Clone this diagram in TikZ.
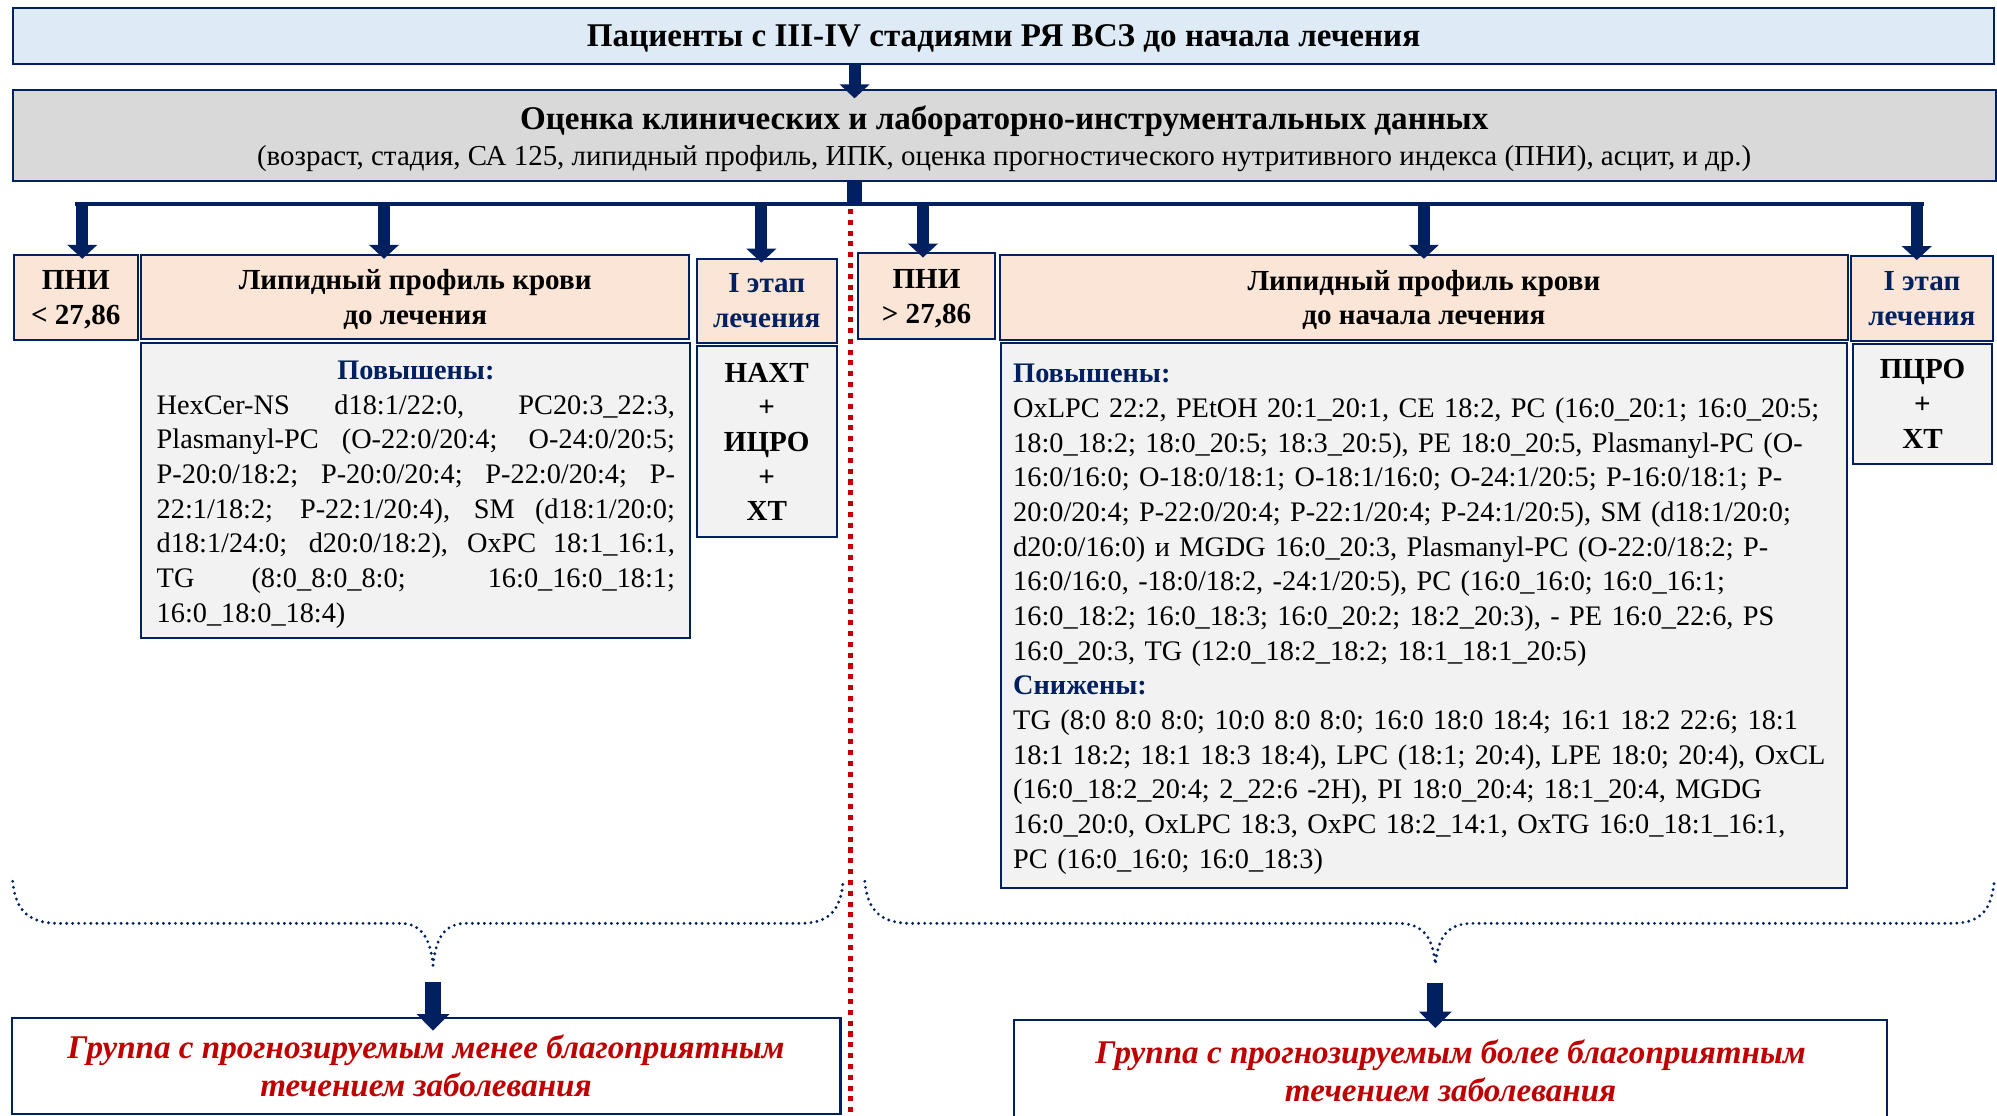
\documentclass[tikz,border=0pt]{standalone}
\usepackage{fontspec}
\setmainfont{Liberation Serif}
\usepackage{tikz}
\usetikzlibrary{arrows.meta,positioning}
\definecolor{dblue}{HTML}{002060}
\definecolor{lblue}{HTML}{DEEBF7}
\definecolor{mgray}{HTML}{D9D9D9}
\definecolor{peach}{HTML}{FBE5D6}
\definecolor{lgray}{HTML}{F2F2F2}
\definecolor{dred}{HTML}{C00000}

\begin{document}
\begin{tikzpicture}[x=0.02cm, y=-0.02cm,
                    box/.style = {draw=dblue, line width=0.9pt, inner sep=0pt, align=center},
                    hdr/.style = {box, fill=peach, text depth=0pt, font=\fontsize{13}{15.6}\selectfont\bfseries},
                    lst/.style = {box, fill=lgray, font=\fontsize{12.65}{15.5}\selectfont},
                    trt/.style = {box, fill=lgray, font=\fontsize{13}{15.5}\selectfont\bfseries},
                    grp/.style = {box, fill=white, text=dred, font=\fontsize{14.8}{17}\selectfont\bfseries\itshape},
                    arr/.style = {dblue, line width=0.19cm, shorten >=-0.08cm,
                                  -{Triangle[width=0.46cm,length=0.22cm]}},
                    arrbig/.style = {dblue, line width=0.25cm,
                                  -{Triangle[width=0.5cm,length=0.26cm]}},
                    brace/.style = {draw=dblue, line width=0.05cm, line cap=round, dash pattern=on 0pt off 0.095cm},
                    divider/.style = {draw=dred, line width=0.08cm, dash pattern=on 0.08cm off 0.09cm}
                    ]
\useasboundingbox (0,0) rectangle (1568,876);

\node[box, fill=lblue, minimum width=31.12cm, minimum height=0.88cm, text depth=0pt,
      font=\fontsize{14.8}{18}\selectfont\bfseries] (p0) at (788,28)
      {Пациенты с III-IV стадиями РЯ ВСЗ до начала лечения};
\node[box, fill=mgray, minimum width=31.14cm, minimum height=1.42cm, text depth=0pt,
      font=\fontsize{12.93}{16.4}\selectfont] (p1) at (788.5,106.5)
      {{\fontsize{14.8}{16.4}\selectfont\bfseries Оценка клинических и лабораторно-инструментальных данных}\\
       (возраст, стадия, СА 125, липидный профиль, ИПК, оценка прогностического нутритивного индекса (ПНИ), асцит, и др.)};

\node[hdr, minimum width=1.94cm, minimum height=1.34cm] (n1) at (59.5,233.5) {ПНИ\\< 27,86};
\node[hdr, minimum width=8.6cm, minimum height=1.32cm] (l1) at (326,233) {Липидный профиль крови\\до лечения};
\node[hdr, minimum width=2.2cm, minimum height=1.32cm, text=dblue] (s1) at (602,236) {I этап\\лечения};
\node[hdr, minimum width=2.14cm, minimum height=1.34cm] (n2) at (727.5,232.5) {ПНИ\\> 27,86};
\node[hdr, minimum width=13.32cm, minimum height=1.34cm] (l2) at (1118,233.5) {Липидный профиль крови\\до начала лечения};
\node[hdr, minimum width=2.24cm, minimum height=1.34cm, text=dblue] (s2) at (1509,234.5) {I этап\\лечения};

\node[lst, minimum width=8.62cm, minimum height=4.64cm, text width=8.14cm, align=justify] (u1) at (326.5,385)
  {{\centering\rule{0pt}{12pt}{\color{dblue}\bfseries Повышены:}\par}
   HexCer-NS d18:1/22:0, PC20:3\_22:3,\linebreak
   Plasmanyl-PC (O-22:0/20:4; O-24:0/20:5;\linebreak
   P-20:0/18:2; P-20:0/20:4; P-22:0/20:4; P-\linebreak
   22:1/18:2; P-22:1/20:4), SM (d18:1/20:0;\linebreak
   d18:1/24:0; d20:0/18:2), OxPC 18:1\_16:1,\linebreak
   TG (8:0\_8:0\_8:0; 16:0\_16:0\_18:1;\linebreak
   16:0\_18:0\_18:4)};
\node[trt, minimum width=2.2cm, minimum height=3cm] (t1) at (602,347) {НАХТ\\+\\ИЦРО\\+\\ХТ};

\node[lst, minimum width=13.28cm, minimum height=8.56cm, text width=12.9cm, align=left] (u2) at (1118,483)
  {\rule{0pt}{12pt}{\color{dblue}\bfseries Повышены:}\\
   OxLPC 22:2, PEtOH 20:1\_20:1, CE 18:2, PC (16:0\_20:1; 16:0\_20:5;\\
   18:0\_18:2; 18:0\_20:5; 18:3\_20:5), PE 18:0\_20:5, Plasmanyl-PC (O-\\
   16:0/16:0; O-18:0/18:1; O-18:1/16:0; O-24:1/20:5; P-16:0/18:1; P-\\
   20:0/20:4; P-22:0/20:4; P-22:1/20:4; P-24:1/20:5), SM (d18:1/20:0;\\
   d20:0/16:0) и MGDG 16:0\_20:3, Plasmanyl-PC (O-22:0/18:2; P-\\
   16:0/16:0, -18:0/18:2, -24:1/20:5), PC (16:0\_16:0; 16:0\_16:1;\\
   16:0\_18:2; 16:0\_18:3; 16:0\_20:2; 18:2\_20:3), - PE 16:0\_22:6, PS\\
   16:0\_20:3, TG (12:0\_18:2\_18:2; 18:1\_18:1\_20:5)\\
   {\color{dblue}\bfseries Снижены:}\\
   TG (8:0 8:0 8:0; 10:0 8:0 8:0; 16:0 18:0 18:4; 16:1 18:2 22:6; 18:1\\
   18:1 18:2; 18:1 18:3 18:4), LPC (18:1; 20:4), LPE 18:0; 20:4), OxCL\\
   (16:0\_18:2\_20:4; 2\_22:6 -2H), PI 18:0\_20:4; 18:1\_20:4, MGDG\\
   16:0\_20:0, OxLPC 18:3, OxPC 18:2\_14:1, OxTG 16:0\_18:1\_16:1,\\
   PC (16:0\_16:0; 16:0\_18:3)};
\node[trt, minimum width=2.18cm, minimum height=1.88cm] (t2) at (1509.5,317) {ПЦРО\\+\\ХТ};

\node[grp, minimum width=13.02cm, minimum height=1.52cm] (g1) at (334.5,837)
  {Группа с прогнозируемым менее благоприятным\\течением заболевания};
\node[grp, minimum width=13.72cm, minimum height=1.6cm] (g2) at (1139,841)
  {Группа с прогнозируемым более благоприятным\\течением заболевания};

\coordinate (hub) at (671,160);
\coordinate (b1) at (64.6,160);
\coordinate (b2) at (301.5,160);
\coordinate (b3) at (597.8,160);
\coordinate (b4) at (724.7,160);
\coordinate (b5) at (1118,160);
\coordinate (b6) at (1505,160);
\coordinate (d0) at (668,164);
\coordinate (d1) at (668,880);
\coordinate (c1) at (340,771);
\coordinate (c2) at (1127,772);

\draw[divider] (d0) -- (d1);
\draw[dblue, line width=0.24cm] (p1.south -| hub) -- ([yshift=0.03cm]hub);
\draw[dblue, line width=0.06cm] ([xshift=-0.12cm]b1) -- ([xshift=0.12cm]b6);

\path[arr]
    (p0.south -| hub) edge[shorten >=-0.14cm] (p1.north -| hub)
    (b1) edge (b1 |- n1.north)
    (b2) edge (b2 |- l1.north)
    (b3) edge (b3 |- s1.north)
    (b4) edge (b4 |- n2.north)
    (b5) edge (b5 |- l2.north)
    (b6) edge (b6 |- s2.north);

\draw[brace] (10,692) .. controls (12,716) and (24,725) .. (46,725) -- (314,725)
  .. controls (332,725) and (338,738) .. (340,758) .. controls (342,738) and (348,725) .. (366,725)
  -- (628,725) .. controls (650,725) and (660,716) .. (662,692);
\draw[brace] (679,692) .. controls (681,716) and (693,725) .. (715,725) -- (1098,725)
  .. controls (1119,725) and (1125,738) .. (1127,757) .. controls (1129,738) and (1135,725) .. (1156,725)
  -- (1532,725) .. controls (1554,725) and (1564,716) .. (1566,690);

\path[arrbig]
    (c1) edge[shorten >=-0.22cm] (c1 |- g1.north)
    (c2) edge[shorten >=-0.14cm] (c2 |- g2.north);
\end{tikzpicture}
\end{document}
